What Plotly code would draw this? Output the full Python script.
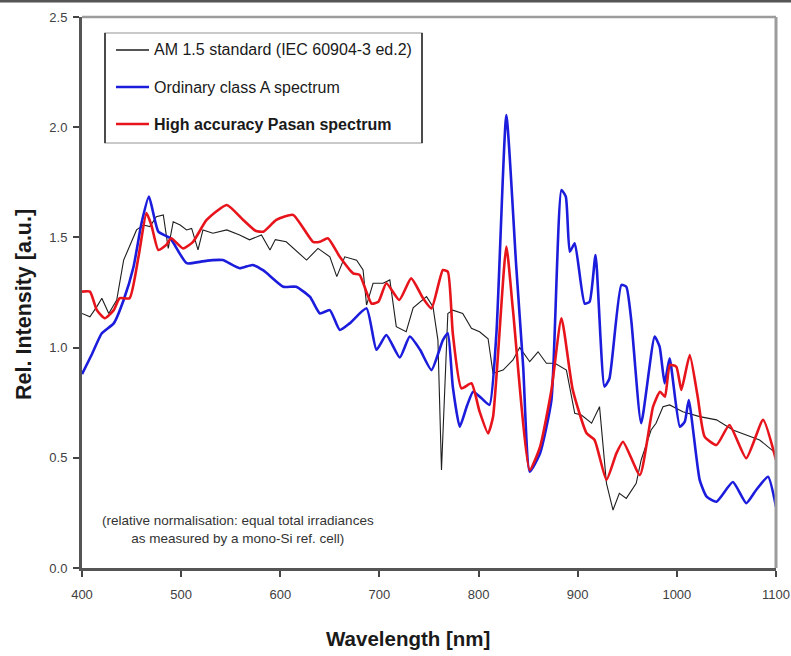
import plotly.graph_objects as go

# Wavelength grid / relative intensity for each spectrum (nm, a.u.)
am15_wl = [400, 408, 415, 420, 427, 435, 442, 448, 455, 462, 468.5, 475, 482, 487, 492,
           499, 505.5, 510.6, 517, 522, 532, 546, 559, 569, 581, 589.6, 595, 606, 626.5,
           638, 650, 657, 665, 677, 683.5, 687, 693.6, 703.7, 710.5, 717, 727, 734, 747.5,
           754, 759, 762.6, 766, 769, 774, 784, 792.8, 801, 809.6, 814.6, 824.7, 834.7,
           841.5, 851.6, 860, 868.4, 877, 888.6, 897, 903.7, 914, 922, 929, 935.6, 942,
           949, 959, 964, 974, 979, 986, 992.7, 1006, 1023, 1040, 1056.5, 1070, 1083.5, 1100]
am15_val = [1.155, 1.14, 1.186, 1.224, 1.155, 1.216, 1.397, 1.458, 1.534, 1.556, 1.549, 1.594,
            1.602, 1.45, 1.571, 1.556, 1.534, 1.541, 1.443, 1.534, 1.519, 1.534, 1.511, 1.489,
            1.511, 1.443, 1.49, 1.48, 1.397, 1.45, 1.412, 1.322, 1.412, 1.397, 1.352, 1.193,
            1.292, 1.292, 1.307, 1.095, 1.072, 1.18, 1.231, 1.186, 1.034, 0.445, 0.823, 1.155,
            1.17, 1.155, 1.088, 1.072, 1.04, 0.883, 0.898, 0.944, 1.0, 0.936, 0.981, 0.929,
            0.929, 0.898, 0.702, 0.694, 0.657, 0.732, 0.384, 0.263, 0.339, 0.316, 0.384, 0.49,
            0.626, 0.657, 0.732, 0.74, 0.709, 0.687, 0.672, 0.626, 0.603, 0.581, 0.52]

classa_wl = [400, 410, 420, 432, 442, 452, 460, 467.5, 477, 489, 505.5, 520, 532, 542, 559,
             572, 583, 603, 616, 630, 640, 650, 660, 670, 687, 697, 707, 720.5, 730.6, 741,
             752.5, 764, 769, 774, 781, 788, 794.5, 803, 811, 818, 828, 838, 845, 851.6, 862,
             873.5, 883.6, 888, 892, 897, 907, 912, 918, 927, 932, 944, 949, 954, 964, 977.6,
             982.6, 987.7, 992.7, 1003, 1008, 1012, 1023, 1030, 1040, 1056.5, 1070, 1080,
             1092, 1100]
classa_val = [0.88, 0.97, 1.065, 1.11, 1.216, 1.367, 1.564, 1.685, 1.526, 1.496, 1.383, 1.39,
              1.397, 1.397, 1.36, 1.375, 1.35, 1.276, 1.276, 1.23, 1.155, 1.17, 1.08, 1.11,
              1.178, 0.99, 1.057, 0.955, 1.05, 0.99, 0.898, 1.034, 1.065, 0.823, 0.641, 0.732,
              0.8, 0.77, 0.74, 1.065, 2.055, 1.367, 0.913, 0.437, 0.52, 0.762, 1.715, 1.685,
              1.435, 1.473, 1.2, 1.208, 1.42, 0.823, 0.86, 1.284, 1.276, 1.125, 0.657, 1.05,
              1.004, 0.838, 0.951, 0.641, 0.664, 0.762, 0.4, 0.324, 0.301, 0.39, 0.294, 0.354,
              0.414, 0.278]

pasan_wl = [400, 408, 415, 423, 432, 438, 448, 457, 465, 470, 477, 485, 490, 502, 512, 525.7,
            546, 562.6, 575, 583, 596, 613, 633, 640, 648, 660, 673.5, 680, 692, 699, 707, 720,
            732, 744, 752.5, 764, 769, 774, 782.7, 792.8, 801, 809.6, 814.6, 828, 834.7, 851.6,
            862, 873.5, 883.6, 895, 909, 917, 929, 939, 945.7, 962.7, 976, 983, 988, 993,
            999.5, 1004.5, 1013, 1021, 1028, 1040, 1053, 1070, 1087, 1100]
pasan_val = [1.254, 1.254, 1.17, 1.133, 1.17, 1.224, 1.224, 1.412, 1.61, 1.556, 1.443, 1.466,
             1.496, 1.45, 1.48, 1.579, 1.647, 1.579, 1.53, 1.526, 1.579, 1.602, 1.48, 1.48,
             1.496, 1.412, 1.337, 1.33, 1.2, 1.208, 1.292, 1.216, 1.314, 1.224, 1.178, 1.352,
             1.344, 1.065, 0.815, 0.838, 0.71, 0.611, 0.686, 1.458, 1.17, 0.445, 0.55, 0.808,
             1.133, 0.808, 0.611, 0.581, 0.4, 0.52, 0.573, 0.422, 0.732, 0.8, 0.777, 0.921,
             0.913, 0.808, 0.966, 0.777, 0.596, 0.558, 0.649, 0.498, 0.672, 0.49]

series_names = ["AM 1.5 standard (IEC 60904-3 ed.2)",
                "Ordinary class A spectrum",
                "<b>High accuracy Pasan spectrum</b>"]
series_colors = ["#1e1e1e", "#1c1cdc", "#e8141c"]

x_ticks = [400, 500, 600, 700, 800, 900, 1000, 1100]
y_ticks = [0.0, 0.5, 1.0, 1.5, 2.0, 2.5]

SANS = "Liberation Sans, Arial, sans-serif"

fig = go.Figure()
fig.add_trace(go.Scatter(x=am15_wl, y=am15_val, mode="lines",
                         line=dict(color=series_colors[0], width=1.1),
                         showlegend=False))
fig.add_trace(go.Scatter(x=classa_wl, y=classa_val, mode="lines",
                         line=dict(color=series_colors[1], width=2.6, shape="spline", smoothing=0.5),
                         showlegend=False))
fig.add_trace(go.Scatter(x=pasan_wl, y=pasan_val, mode="lines",
                         line=dict(color=series_colors[2], width=2.6, shape="spline", smoothing=0.5),
                         showlegend=False))

# plot area in pixels: left 82, right 776, top 17, bottom 568
L, R, T, B = 82, 776, 17, 568
W, H = R - L, B - T


def px(xp):
    return (xp - L) / W


def py(yp):
    return (B - yp) / H


shapes = []
# dark strip along the top edge of the page
shapes.append(dict(type="rect", xref="paper", yref="paper",
                   x0=px(-5), x1=px(800), y0=py(2.5), y1=py(-5),
                   fillcolor="#555555", line=dict(width=0), layer="above"))
# lighter top and right frame of the plot box
shapes.append(dict(type="line", xref="paper", yref="paper", x0=0, x1=1, y0=1, y1=1,
                   line=dict(color="#9c9c9c", width=2.5)))
shapes.append(dict(type="line", xref="paper", yref="paper", x0=1, x1=1, y0=0, y1=1,
                   line=dict(color="#9c9c9c", width=3)))

# legend box
lx0, lx1, ly0, ly1 = 105, 422, 33, 143
shapes.append(dict(type="rect", xref="paper", yref="paper",
                   x0=px(lx0), x1=px(lx1), y0=py(ly1), y1=py(ly0),
                   fillcolor="white", line=dict(color="#b8b8b8", width=1.5)))
for xe in (lx0, lx1):
    shapes.append(dict(type="line", xref="paper", yref="paper",
                       x0=px(xe), x1=px(xe), y0=py(ly1), y1=py(ly0),
                       line=dict(color="#202020", width=1.5)))

annotations = []
row_y = [50, 87, 124]
for name, col, yy, w in zip(series_names, series_colors, row_y, [1.3, 2.6, 2.6]):
    shapes.append(dict(type="line", xref="paper", yref="paper",
                       x0=px(116), x1=px(149), y0=py(yy), y1=py(yy),
                       line=dict(color=col, width=w)))
    annotations.append(dict(text=name, xref="paper", yref="paper",
                            x=px(152), y=py(yy), xanchor="left", yanchor="middle",
                            showarrow=False,
                            font=dict(family=SANS, size=16, color="#1a1a1a")))

# normalisation note
annotations.append(dict(text="(relative normalisation: equal total irradiances<br>"
                             "as measured by a mono-Si ref. cell)",
                        xref="paper", yref="paper", x=px(238), y=py(529),
                        xanchor="center", yanchor="middle", showarrow=False,
                        font=dict(family=SANS, size=13.5, color="#333333")))

# axis titles
annotations.append(dict(text="<b>Wavelength [nm]</b>", xref="paper", yref="paper",
                        x=px(408), y=py(638), xanchor="center", yanchor="middle",
                        showarrow=False, font=dict(family=SANS, size=20.5, color="#1a1a1a")))
annotations.append(dict(text="<b>Rel. Intensity [a.u.]</b>", xref="paper", yref="paper",
                        x=px(24), y=py(305), xanchor="center", yanchor="middle",
                        textangle=-90, showarrow=False,
                        font=dict(family=SANS, size=21.5, color="#1a1a1a")))

axis_common = dict(showgrid=False, zeroline=False, showline=True, automargin=False,
                   linecolor="#555555", linewidth=3,
                   ticks="outside", ticklen=6, tickwidth=1.5, tickcolor="#444444",
                   tickfont=dict(family=SANS, size=13, color="#404040"))

fig.update_layout(
    width=791, height=656,
    margin=dict(l=L, r=791 - R, t=T, b=656 - B),
    paper_bgcolor="white", plot_bgcolor="white",
    showlegend=False,
    shapes=shapes, annotations=annotations,
    xaxis=dict(range=[400, 1100], tickmode="array", tickvals=x_ticks,
               ticktext=[str(v) for v in x_ticks], ticklabelstandoff=6, **axis_common),
    yaxis=dict(range=[0, 2.5], tickmode="array", tickvals=y_ticks,
               ticktext=[f"{v:.1f}" for v in y_ticks], ticklabelstandoff=3, **axis_common),
)

fig.write_html("out.html")
